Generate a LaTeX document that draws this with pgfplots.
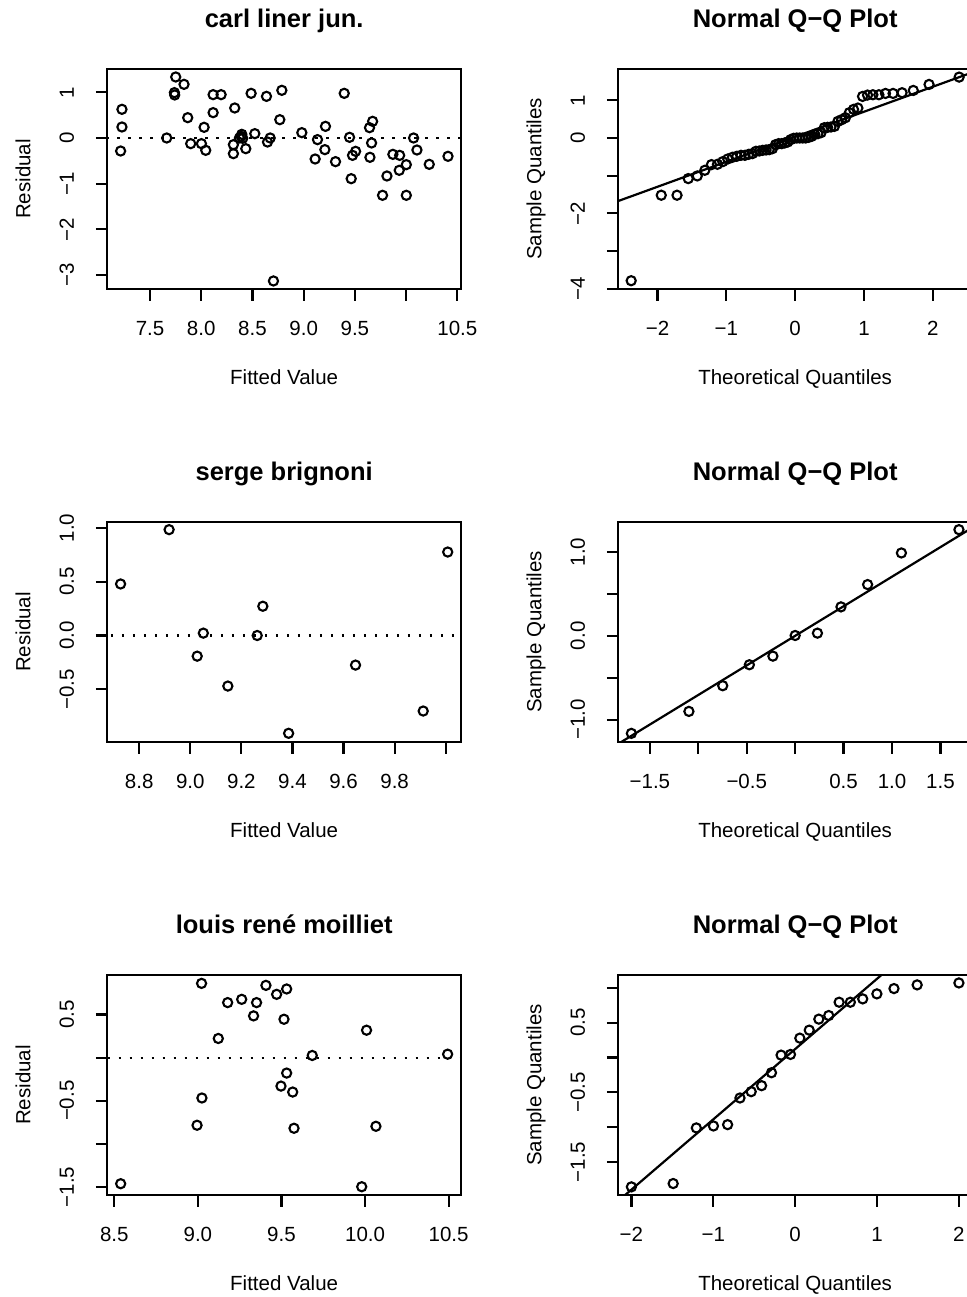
\documentclass[border=0pt]{standalone}
\usepackage{fontspec}
\setmainfont{Liberation Sans}
\usepackage{pgfplots}
\pgfplotsset{compat=1.18}
\newcommand{\lab}{\fontsize{20.5}{24}\selectfont}
\newcommand{\ttl}{\fontsize{25.5}{30}\selectfont\bfseries}
\pgfplotsset{
  rpanel/.style={
    scale only axis, width=353.7pt, height=220pt,
    axis line style={line width=2.2pt, black},
    tick style={black, line width=2.2pt},
    tick align=outside, major tick length=11.5pt,
    xtick pos=bottom, ytick pos=left,
    tick label style={font=\lab},
    xticklabel style={anchor=base},
    xticklabel shift=35pt,
    yticklabel style={rotate=90, anchor=base},
    yticklabel shift=22pt,
    title style={at={([yshift=35.3pt]axis description cs:0.5,1)}, anchor=base, font=\ttl},
    xlabel style={at={([yshift=-95.3pt]axis description cs:0.5,0)}, anchor=base, font=\lab},
    ylabel style={at={([xshift=-77pt]axis description cs:0,0.5)}, anchor=base, font=\lab},
  },
  pts/.style={only marks, mark=o, mark size=4.6pt, mark options={line width=2.1pt, black, solid}},
  zline/.style={black, line width=2.2pt, dash pattern=on 2.2pt off 8.8pt},
  qline/.style={black, line width=2.2pt, solid},
}
\begin{document}
\begin{tikzpicture}
% ---------- panel 1 ----------
\begin{axis}[rpanel, anchor=south west, at={(107.3pt,-289pt)},
  xmin=7.083, xmax=10.536, ymin=-3.307, ymax=1.511,
  xtick={7.5,8,8.5,9,9.5,10,10.5}, xticklabels={7.5,8.0,8.5,9.0,9.5,,10.5},
  ytick={-3,-2,-1,0,1}, yticklabels={−3,−2,−1,0,1},
  title={carl liner jun.}, xlabel={Fitted Value}, ylabel={Residual}]
\addplot[zline] coordinates {(6,0) (11,0)};
\addplot[pts] table {
7.226 0.628
7.226 0.241
7.213 -0.285
7.751 1.336
7.738 0.993
7.741 0.942
7.832 1.175
7.868 0.445
7.663 0.000
7.897 -0.124
8.028 0.234
8.002 -0.124
8.044 -0.270
8.116 0.949
8.194 0.949
8.116 0.555
8.327 0.657
8.314 -0.146
8.314 -0.343
8.396 0.080
8.373 0.000
8.405 -0.007
8.390 0.036
8.435 -0.234
8.487 0.978
8.523 0.095
8.637 0.912
8.647 -0.088
8.673 0.000
8.787 1.044
8.767 0.401
8.705 -3.131
8.982 0.117
9.135 -0.036
9.207 -0.255
9.213 0.255
9.112 -0.460
9.311 -0.518
9.396 0.978
9.448 0.015
9.507 -0.292
9.477 -0.380
9.464 -0.891
9.643 0.226
9.673 0.365
9.663 -0.109
9.647 -0.423
9.770 -1.255
9.813 -0.832
9.871 -0.358
9.937 -0.380
9.933 -0.708
10.002 -0.584
10.002 -1.255
10.073 0.000
10.106 -0.263
10.226 -0.577
10.409 -0.401
};
\end{axis}
% ---------- panel 2 ----------
\begin{axis}[rpanel, anchor=south west, at={(618.3pt,-289pt)},
  xmin=-2.569, xmax=2.569, ymin=-4.009, ymax=1.832,
  xtick={-2,-1,0,1,2}, xticklabels={−2,−1,0,1,2},
  ytick={-4,-3,-2,-1,0,1}, yticklabels={−4,,−2,,0,1},
  title={Normal Q−Q Plot}, xlabel={Theoretical Quantiles}, ylabel={Sample Quantiles}]
\addplot[qline] coordinates {(-3,-1.959) (3,2.025)};
\addplot[pts] table {
-2.382 -3.789
-1.945 -1.519
-1.716 -1.519
-1.553 -1.078
-1.422 -1.007
-1.312 -0.857
-1.216 -0.707
-1.129 -0.698
-1.051 -0.627
-0.979 -0.557
-0.911 -0.512
-0.848 -0.485
-0.787 -0.460
-0.730 -0.460
-0.674 -0.433
-0.621 -0.415
-0.570 -0.353
-0.520 -0.345
-0.471 -0.327
-0.423 -0.318
-0.376 -0.309
-0.330 -0.283
-0.285 -0.177
-0.240 -0.150
-0.196 -0.150
-0.152 -0.132
-0.108 -0.106
-0.065 -0.044
-0.022 -0.008
0.022 0.000
0.065 0.000
0.108 0.000
0.152 0.000
0.196 0.018
0.240 0.044
0.285 0.097
0.330 0.115
0.376 0.142
0.423 0.273
0.471 0.283
0.520 0.292
0.570 0.309
0.621 0.442
0.674 0.485
0.730 0.538
0.787 0.672
0.848 0.760
0.911 0.795
0.979 1.104
1.051 1.140
1.129 1.148
1.216 1.148
1.312 1.183
1.422 1.183
1.553 1.202
1.716 1.263
1.945 1.422
2.382 1.617
};
\end{axis}
% ---------- panel 3 ----------
\begin{axis}[rpanel, anchor=south west, at={(107.3pt,-742pt)},
  xmin=8.675, xmax=10.060, ymin=-0.990, ymax=1.055,
  xtick={8.8,9.0,9.2,9.4,9.6,9.8,10.0}, xticklabels={8.8,9.0,9.2,9.4,9.6,9.8,},
  ytick={-0.5,0,0.5,1}, yticklabels={−0.5,0.0,0.5,1.0},
  title={serge brignoni}, xlabel={Fitted Value}, ylabel={Residual}]
\addplot[zline] coordinates {(8,0) (11,0)};
\addplot[pts] table {
8.727 0.479
8.917 0.984
9.051 0.022
9.027 -0.192
9.147 -0.470
9.262 0.000
9.284 0.272
9.385 -0.909
9.647 -0.275
9.912 -0.702
10.008 0.776
};
\end{axis}
% ---------- panel 4 ----------
\begin{axis}[rpanel, anchor=south west, at={(618.3pt,-742pt)},
  xmin=-1.826, xmax=1.826, ymin=-1.266, ymax=1.357,
  xtick={-1.5,-1,-0.5,0,0.5,1,1.5}, xticklabels={−1.5,,−0.5,,0.5,1.0,1.5},
  ytick={-1,-0.5,0,0.5,1}, yticklabels={−1.0,,0.0,,1.0},
  title={Normal Q−Q Plot}, xlabel={Theoretical Quantiles}, ylabel={Sample Quantiles}]
\addplot[qline] coordinates {(-2,-1.41) (2,1.41)};
\addplot[pts] table {
-1.691 -1.163
-1.097 -0.901
-0.748 -0.595
-0.473 -0.345
-0.230 -0.242
0.000 0.004
0.230 0.032
0.473 0.345
0.748 0.611
1.097 0.988
1.691 1.266
};
\end{axis}
% ---------- panel 5 ----------
\begin{axis}[rpanel, anchor=south west, at={(107.3pt,-1195pt)},
  xmin=8.458, xmax=10.574, ymin=-1.593, ymax=0.958,
  xtick={8.5,9,9.5,10,10.5}, xticklabels={8.5,9.0,9.5,10.0,10.5},
  ytick={-1.5,-1,-0.5,0,0.5}, yticklabels={−1.5,,−0.5,,0.5},
  title={louis rené moilliet}, xlabel={Fitted Value}, ylabel={Residual}]
\addplot[zline] coordinates {(8,0) (11,0)};
\addplot[pts] table {
8.538 -1.462
9.022 0.861
9.024 -0.468
8.995 -0.784
9.122 0.222
9.178 0.638
9.262 0.676
9.351 0.638
9.333 0.484
9.407 0.838
9.471 0.734
9.531 0.796
9.515 0.445
9.531 -0.179
9.497 -0.330
9.567 -0.399
9.575 -0.819
9.684 0.025
10.009 0.318
9.980 -1.497
10.065 -0.796
10.494 0.040
};
\end{axis}
% ---------- panel 6 ----------
\begin{axis}[rpanel, anchor=south west, at={(618.3pt,-1195pt)},
  xmin=-2.16, xmax=2.16, ymin=-1.976, ymax=1.185,
  xtick={-2,-1,0,1,2}, xticklabels={−2,−1,0,1,2},
  ytick={-1.5,-1,-0.5,0,0.5,1}, yticklabels={−1.5,,−0.5,,0.5,},
  title={Normal Q−Q Plot}, xlabel={Theoretical Quantiles}, ylabel={Sample Quantiles}]
\addplot[qline] coordinates {(-3,-2.909) (3,3.151)};
\addplot[pts] table {
-2.000 -1.859
-1.490 -1.811
-1.207 -1.012
-0.998 -0.984
-0.825 -0.965
-0.674 -0.582
-0.537 -0.491
-0.410 -0.405
-0.289 -0.219
-0.172 0.034
-0.057 0.044
0.057 0.278
0.172 0.393
0.289 0.551
0.410 0.603
0.537 0.794
0.674 0.794
0.825 0.842
0.998 0.914
1.207 0.990
1.490 1.043
2.000 1.071
};
\end{axis}
\pgfresetboundingbox
\useasboundingbox (0pt,0pt) rectangle (966pt,-1297pt);
\end{tikzpicture}
\end{document}
